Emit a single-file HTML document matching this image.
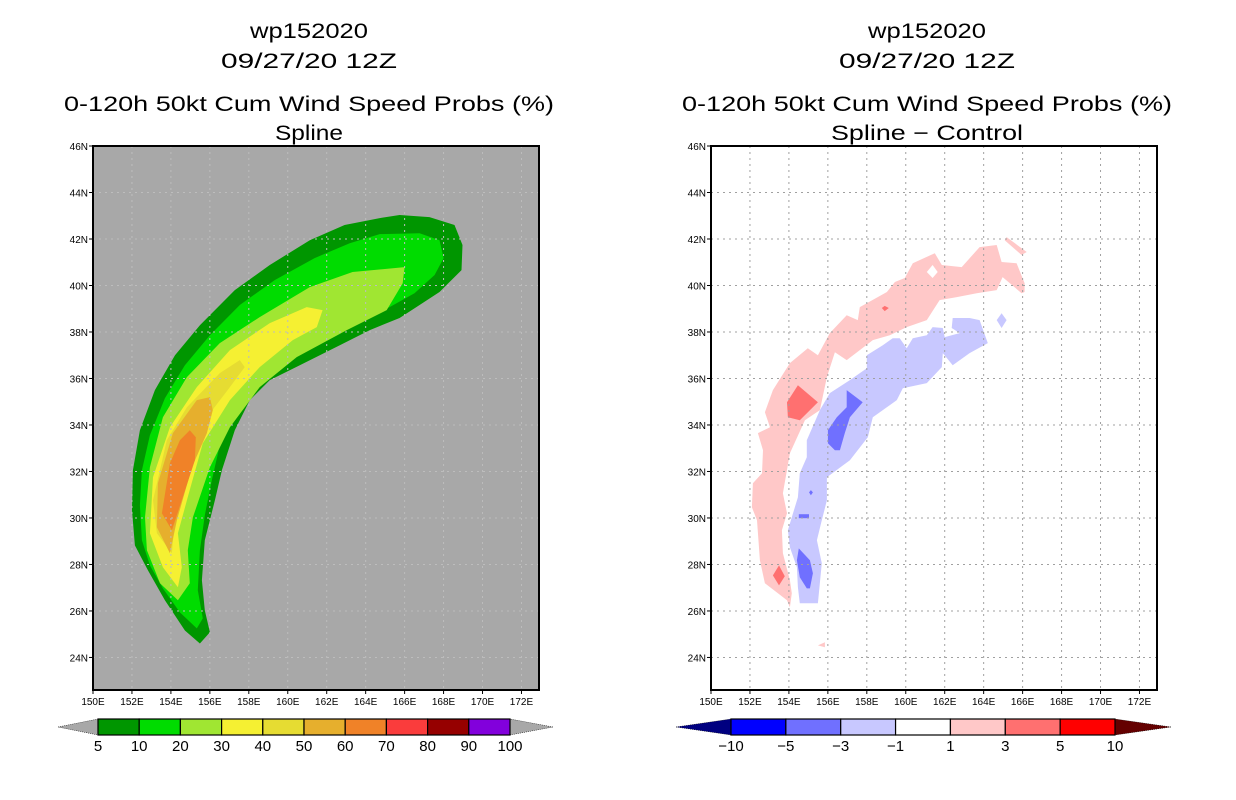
<!DOCTYPE html>
<html><head><meta charset="utf-8"><style>
html,body{margin:0;padding:0;background:#fff;}
svg{display:block;}
text{font-family:"Liberation Sans",sans-serif;fill:#000;}
</style></head><body>
<svg id="chart" width="1236" height="800" viewBox="0 0 1236 800" xmlns="http://www.w3.org/2000/svg">
<g id="titles">
<text x="309" y="38" font-size="21" text-anchor="middle" textLength="118" lengthAdjust="spacingAndGlyphs">wp152020</text>
<text x="309" y="68" font-size="21" text-anchor="middle" textLength="176" lengthAdjust="spacingAndGlyphs">09/27/20 12Z</text>
<text x="309" y="111" font-size="21" text-anchor="middle" textLength="490" lengthAdjust="spacingAndGlyphs">0-120h 50kt Cum Wind Speed Probs (%)</text>
<text x="309" y="140" font-size="21" text-anchor="middle" textLength="68" lengthAdjust="spacingAndGlyphs">Spline</text>
<text x="927" y="38" font-size="21" text-anchor="middle" textLength="118" lengthAdjust="spacingAndGlyphs">wp152020</text>
<text x="927" y="68" font-size="21" text-anchor="middle" textLength="176" lengthAdjust="spacingAndGlyphs">09/27/20 12Z</text>
<text x="927" y="111" font-size="21" text-anchor="middle" textLength="490" lengthAdjust="spacingAndGlyphs">0-120h 50kt Cum Wind Speed Probs (%)</text>
<text x="927" y="140" font-size="21" text-anchor="middle" textLength="192" lengthAdjust="spacingAndGlyphs">Spline − Control</text>
</g>
<g id="left"></g>
<g id="right"></g>
<g id="cbl"></g>
<g id="cbr"></g>
</svg>
<script>
const NS="http://www.w3.org/2000/svg";
const lonTicks=[150,152,154,156,158,160,162,164,166,168,170,172];
const latTicks=[24,26,28,30,32,34,36,38,40,42,44,46];
const lonMin=150, lonMax=172.9, latMin=22.6, latMax=46;
const probLevels=["5","10","20","30","40","50","60","70","80","90","100"];
const probColors=["#009600","#00dc00","#a0e632","#f5f032","#e6dc32","#e6af2d","#f08228","#fa3c3c","#960000","#8200dc"];
const diffLevels=["−10","−5","−3","−1","1","3","5","10"];
const diffColors=["#0000ff","#7070ff","#c8c8ff","#ffffff","#ffc8c8","#ff7070","#ff0000"];
// left contours [lon,lat]
const p5=[[155.49,24.6],[154.72,25.16],[153.69,26.46],[152.82,27.75],[152.15,28.82],[152,30.33],[152.05,32.05],[152.41,33.77],[153.18,35.5],[154.21,37],[155.49,38.29],[157.28,39.8],[159.08,40.88],[161.13,41.95],[162.92,42.6],[164.72,42.9],[165.74,43.03],[167.28,42.94],[168.56,42.6],[168.97,41.74],[168.92,40.66],[167.79,39.72],[166.77,39.16],[165.74,38.6],[164.21,38.08],[162.67,37.43],[160.62,36.57],[159.08,35.93],[158.05,35.07],[157.28,33.77],[156.62,32.05],[156.26,30.76],[155.74,29.04],[155.59,27.32],[155.74,26.03],[156,25.08]];
const p10=[[155.33,25.25],[154.46,25.94],[153.59,26.97],[152.92,27.96],[152.51,29.04],[152.41,30.55],[152.51,32.05],[152.92,33.56],[153.69,35.15],[154.72,36.57],[156,37.86],[157.54,39.16],[159.33,40.23],[161.38,41.18],[163.18,41.82],[164.72,42.21],[166.77,42.25],[167.79,41.95],[168,41.18],[167.54,40.45],[166.51,39.67],[165.23,39.07],[163.69,38.51],[162.15,37.95],[160.62,37.3],[159.08,36.57],[157.79,35.71],[157.13,34.64],[156.51,33.13],[156.1,31.62],[155.74,30.12],[155.49,28.61],[155.38,26.89],[155.64,25.68]];
const p20=[[166,40.79],[163.33,40.58],[161.13,39.93],[158.56,38.64],[156.51,37.52],[154.82,36.06],[153.59,34.33],[152.92,32.18],[152.67,30.03],[152.77,28.61],[153.44,27.19],[154.36,26.46],[154.97,27.19],[154.87,28.61],[155.13,30.03],[156,32.18],[157.03,33.9],[158.56,35.63],[160.46,36.92],[163.03,38.08],[165.08,38.94],[165.9,40.1]];
const p30=[[161.79,38.94],[160.97,39.07],[159.08,38.38],[157.03,37.22],[155.33,35.63],[153.95,33.9],[153.08,31.75],[152.92,29.34],[153.59,27.88],[154.36,27.02],[154.56,27.88],[154.36,29.34],[154.82,30.76],[155.64,33.21],[157.03,35.07],[158.56,36.49],[160.26,37.65],[161.49,38.21]];
const p40=[[157.54,36.79],[156.51,36.23],[154.82,34.76],[153.79,33.34],[153.08,30.76],[153.28,29.34],[154.05,28.48],[154.21,30.03],[154.82,32.18],[155.85,34.33],[157.03,35.63],[157.79,36.49]];
const p50=[[156,35.2],[155.33,35.07],[154.1,33.65],[153.33,31.49],[153.28,29.6],[153.95,28.48],[154.31,29.9],[155.08,32.18],[155.85,33.65],[156.15,34.64]];
const p60=[[154.97,33.77],[154.46,33.34],[153.95,32.35],[153.54,30.2],[154.05,29.47],[154.56,30.76],[155.23,32.48],[155.28,33.47]];
// right contours
const d1=[[154.05,26.16],[153.9,26.46],[152.77,27.19],[152.51,28.18],[152.36,29.9],[152.1,30.46],[152.15,31.49],[152.62,31.92],[152.67,32.91],[152.41,33.65],[153.03,33.9],[152.77,34.55],[153.18,35.5],[154.05,36.66],[154.97,37.3],[155.49,37],[156.1,37.95],[156.97,38.72],[157.54,38.51],[157.64,39.07],[159.03,39.72],[159.44,40.15],[159.95,40.32],[160.36,40.96],[161.49,41.39],[161.85,40.88],[162.87,40.79],[163.79,41.65],[164.67,41.74],[164.92,41.01],[165.69,40.96],[166.1,40.1],[166.1,39.72],[165.95,39.67],[164.97,40.36],[164.67,39.8],[163.64,39.67],[162.62,39.5],[161.74,39.37],[161.08,38.51],[160.05,38.21],[159.18,37.86],[158.31,37.65],[157.64,37.22],[156.97,36.79],[156.36,37.13],[155.95,36.06],[155.59,34.64],[154.82,34.2],[154.05,32.78],[153.69,31.06],[153.9,30.2],[153.64,29.47],[153.69,28.48],[154.05,27.32],[154.15,26.76]];
const d1b=[[165.18,42.08],[166.21,41.44],[165.95,41.31],[165.08,41.95]];
const d1c=[[155.49,24.52],[155.85,24.65],[155.85,24.44]];
const d1hole=[[161.08,40.58],[161.38,40.88],[161.64,40.58],[161.38,40.32]];
const d3a=[[153.9,34.98],[154.46,35.71],[155.49,34.98],[154.56,34.2],[153.95,34.33]];
const d3b=[[153.18,27.53],[153.49,27.96],[153.79,27.49],[153.49,27.1]];
const d3c=[[158.77,39.03],[158.92,39.12],[159.13,39.03],[158.92,38.9]];
const dm1=[[154.56,26.33],[155.49,26.33],[155.69,28.05],[155.44,29.04],[155.69,29.9],[155.95,30.76],[155.95,31.75],[157.13,32.48],[158.05,33.47],[158.31,34.33],[159.54,35.07],[159.85,35.58],[161.08,35.8],[161.85,36.49],[161.9,37.09],[162.41,36.57],[163.28,37.09],[164.21,37.52],[163.79,38.51],[163.28,38.6],[162.41,38.6],[162.36,38.17],[162.77,37.95],[162,37.78],[161.9,38.17],[161.38,38.21],[161.08,37.86],[160.36,37.73],[160.05,37.3],[159.69,37.73],[159.33,37.73],[158.82,37.43],[158,37],[158,36.44],[157.13,35.93],[156.1,35.37],[155.59,34.64],[154.92,33.34],[154.92,32.61],[154.56,31.92],[154.46,30.89],[154.21,30.2],[153.95,29.47],[154.05,28.74],[154.41,27.88],[154.46,27.02]];
const dm1b=[[164.67,38.51],[164.92,38.81],[165.18,38.51],[164.92,38.17]];
const dm3a=[[156.97,35.5],[157.79,34.98],[157.13,34.33],[156.87,33.65],[156.62,32.91],[156.36,32.91],[156,33.21],[156,33.77],[156.46,34.33],[156.97,34.76]];
const dm3b=[[154.51,28.69],[155.08,28.18],[155.23,27.62],[155.08,26.97],[154.92,26.97],[154.56,27.45],[154.41,28.18]];
const dm3c=[[154.51,30.16],[155.03,30.16],[155.03,29.99],[154.51,29.99]];
const dm3d=[[155.03,31.1],[155.13,31.2],[155.23,31.1],[155.13,30.98]];

function el(tag,attrs,parent){const e=document.createElementNS(NS,tag);for(const k in attrs)e.setAttribute(k,attrs[k]);parent.appendChild(e);return e;}
function makePanel(g,x0){
  const W=446,H=544,y0=146;
  const sx=lon=>x0+(lon-lonMin)/(lonMax-lonMin)*W;
  const sy=lat=>y0+(latMax-lat)/(latMax-latMin)*H;
  return {sx,sy,x0,y0,W,H,g};
}
function poly(P,pts,fill,name){
  const e=el('polygon',{points:pts.map(p=>P.sx(p[0]).toFixed(1)+','+P.sy(p[1]).toFixed(1)).join(' '),fill:fill},P.g);
  
  
}
function axes(P,gridColor,prefix){
  for(const lo of lonTicks){const x=P.sx(lo);
    if(lo>lonMin){const l=el('line',{x1:x,x2:x,y1:P.y0,y2:P.y0+P.H,stroke:gridColor,'stroke-width':1,'stroke-dasharray':'2,4'},P.g);
    
    }
    el('line',{x1:x,x2:x,y1:P.y0+P.H,y2:P.y0+P.H+4,stroke:'#000'},P.g);
    const t=el('text',{x:x,y:P.y0+P.H+15,'font-size':10,'text-anchor':'middle'},P.g);t.textContent=lo+'E';
    
    
  }
  for(const la of latTicks){const y=P.sy(la);
    if(la<latMax){const l=el('line',{x1:P.x0,x2:P.x0+P.W,y1:y,y2:y,stroke:gridColor,'stroke-width':1,'stroke-dasharray':'2,4'},P.g);
    
    }
    el('line',{x1:P.x0-4,x2:P.x0,y1:y,y2:y,stroke:'#000'},P.g);
    const t=el('text',{x:P.x0-5,y:y+4,'font-size':10,'text-anchor':'end'},P.g);t.textContent=la+'N';
    
    
  }
  const f=el('rect',{x:P.x0,y:P.y0,width:P.W,height:P.H,fill:'none',stroke:'#000','stroke-width':2},P.g);
  
  
}
// left panel
const L=makePanel(document.getElementById('left'),93);
const bg=el('rect',{x:93,y:146,width:446,height:544,fill:'#a8a8a8'},L.g);


[[p5,0],[p10,1],[p20,2],[p30,3],[p40,4],[p50,5],[p60,6]].forEach(([pp,i])=>poly(L,pp,probColors[i],'prob-contour-'+probLevels[i]));
axes(L,'#bdbdbd','left');
// right panel
const R=makePanel(document.getElementById('right'),711);
const bg2=el('rect',{x:711,y:146,width:446,height:544,fill:'#fff'},R.g);


poly(R,d1,diffColors[4],'diff-contour-pos1');poly(R,d1b,diffColors[4],'diff-contour-pos1');poly(R,d1c,diffColors[4],'diff-contour-pos1');
poly(R,d1hole,'#ffffff','diff-hole');
poly(R,d3a,diffColors[5],'diff-contour-pos3');poly(R,d3b,diffColors[5],'diff-contour-pos3');poly(R,d3c,diffColors[5],'diff-contour-pos3');
poly(R,dm1,diffColors[2],'diff-contour-neg1');poly(R,dm1b,diffColors[2],'diff-contour-neg1');
poly(R,dm3a,diffColors[1],'diff-contour-neg3');poly(R,dm3b,diffColors[1],'diff-contour-neg3');poly(R,dm3c,diffColors[1],'diff-contour-neg3');poly(R,dm3d,diffColors[1],'diff-contour-neg3');
axes(R,'#a0a0a0','right');
// colorbars
function colorbar(g,x0,x1,tipL,tipR,colors,labels,leftTip,rightTip){
  const y0=719,y1=735,n=colors.length,w=(x1-x0)/n;
  const a=el('polygon',{points:`${tipL},${(y0+y1)/2} ${x0},${y0} ${x0},${y1}`,fill:leftTip,stroke:'#000','stroke-width':0.5,'stroke-dasharray':'1,1'},g);
  
  
  const b=el('polygon',{points:`${tipR},${(y0+y1)/2} ${x1},${y0} ${x1},${y1}`,fill:rightTip,stroke:'#000','stroke-width':0.5,'stroke-dasharray':'1,1'},g);
  
  
  colors.forEach((c,i)=>{const r=el('rect',{x:x0+i*w,y:y0,width:w,height:y1-y0,fill:c,stroke:'#000','stroke-width':1.2},g);
    
    });
  labels.forEach((s,i)=>{const t=el('text',{x:x0+i*w,y:751,'font-size':15,'text-anchor':'middle'},g);t.textContent=s;
    
    });
}
colorbar(document.getElementById('cbl'),98,510,58,553,probColors,probLevels,'#a8a8a8','#a8a8a8');
colorbar(document.getElementById('cbr'),731,1115,676,1171,diffColors,diffLevels,'#000080','#640000');
</script>
</body></html>
